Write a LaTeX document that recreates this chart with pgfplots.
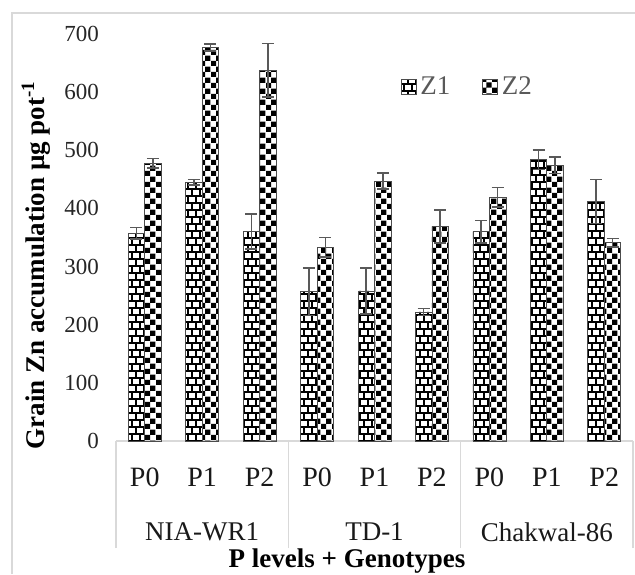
\documentclass[border=0pt]{standalone}
\usepackage{fontspec}
\setmainfont{Liberation Serif}
\usepackage{pgfplots}
\pgfplotsset{compat=1.18}
\usetikzlibrary{patterns}

\pgfdeclarepatternformonly{mycheck}{\pgfqpoint{0pt}{0pt}}{\pgfqpoint{5.6pt}{5.6pt}}{\pgfqpoint{5.6pt}{5.6pt}}{%
  \pgfpathrectangle{\pgfqpoint{0pt}{0pt}}{\pgfqpoint{2.8pt}{2.8pt}}%
  \pgfpathrectangle{\pgfqpoint{2.8pt}{2.8pt}}{\pgfqpoint{2.8pt}{2.8pt}}%
  \pgfusepath{fill}}

\pgfdeclarepatternformonly{mybricks}{\pgfqpoint{-0.5pt}{-0.5pt}}{\pgfqpoint{4.5pt}{7.5pt}}{\pgfqpoint{4pt}{7pt}}{%
  \pgfsetlinewidth{0.65pt}%
  \pgfpathmoveto{\pgfqpoint{0pt}{0pt}}\pgfpathlineto{\pgfqpoint{4pt}{0pt}}%
  \pgfpathmoveto{\pgfqpoint{0pt}{3.5pt}}\pgfpathlineto{\pgfqpoint{4pt}{3.5pt}}%
  \pgfpathmoveto{\pgfqpoint{0pt}{0pt}}\pgfpathlineto{\pgfqpoint{0pt}{3.5pt}}%
  \pgfpathmoveto{\pgfqpoint{2pt}{3.5pt}}\pgfpathlineto{\pgfqpoint{2pt}{7pt}}%
  \pgfusepath{stroke}}

\definecolor{errgray}{HTML}{595959}
\definecolor{framegray}{HTML}{D9D9D9}

\begin{document}
\begin{tikzpicture}
\begin{axis}[
  at={(58pt,66.5pt)}, anchor=south west,
  width=258.5pt, height=203.5pt, scale only axis,
  ymin=0, ymax=700, xmin=-0.5, xmax=8.5,
  ybar=0pt, bar width=8.25pt,
  ytick={0,100,...,700},
  xtick={0,...,8},
  xticklabels={P0,P1,P2,P0,P1,P2,P0,P1,P2},
  major tick length=0pt,
  extra x ticks={-0.5,2.5,5.5,8.5},
  extra x tick labels={},
  extra x tick style={major tick length=53.5pt, tick align=outside, tick style={draw=framegray, line width=0.8pt}},
  axis x line*=bottom, axis y line*=left,
  x axis line style={draw=framegray, line width=0.8pt},
  y axis line style={draw=none},
  ytick style={draw=none},
  /pgf/number format/assume math mode=true,
  yticklabel style={font=\fontsize{11.5}{13}\selectfont, text=black!85, xshift=-5pt},
  xticklabel style={font=\fontsize{14}{16}\selectfont, text=black!90, yshift=-10pt},
  clip=false,
  legend style={draw=none, fill=none, at={(0.55,0.87)}, anchor=west, inner sep=0pt,
    font=\fontsize{13.5}{16}\selectfont, text=black!65,
    /tikz/every even column/.append style={column sep=14pt}},
  legend columns=2,
  legend image code/.code={\draw[#1, line width=0.3pt] (0pt,-3.75pt) rectangle (7.5pt,3.75pt);},
]
\addplot[pattern=mybricks, draw=black!70, line width=0.35pt,
  error bars/.cd, y dir=both, y explicit,
  error bar style={line width=0.8pt, draw=errgray},
  error mark options={rotate=90, mark size=3pt, line width=0.8pt, draw=errgray}]
coordinates {(0,357) +- (0,10) (1,445) +- (0,5) (2,360) +- (0,30)
             (3,257) +- (0,41) (4,258) +- (0,40) (5,222) +- (0,6)
             (6,360) +- (0,19) (7,484) +- (0,17) (8,412) +- (0,38)};
\addlegendentry{Z1}
\addplot[pattern=mycheck, draw=black!70, line width=0.35pt,
  error bars/.cd, y dir=both, y explicit,
  error bar style={line width=0.8pt, draw=errgray},
  error mark options={rotate=90, mark size=3pt, line width=0.8pt, draw=errgray}]
coordinates {(0,478) +- (0,8) (1,677) +- (0,6) (2,638) +- (0,46)
             (3,333) +- (0,17) (4,447) +- (0,14) (5,369) +- (0,28)
             (6,419) +- (0,17) (7,474) +- (0,14) (8,341) +- (0,7)};
\addlegendentry{Z2}
\node[font=\fontsize{13.5}{16}\selectfont, text=black!90] at (axis cs:1,0) [yshift=-45.5pt] {NIA-WR1};
\node[font=\fontsize{13.5}{16}\selectfont, text=black!90] at (axis cs:4,0) [yshift=-45.5pt] {TD-1};
\node[font=\fontsize{13.5}{16}\selectfont, text=black!90] at (axis cs:7,0) [yshift=-45.5pt] {Chakwal-86};
\end{axis}
\node[font=\fontsize{13.5}{16}\selectfont\bfseries, rotate=90] at (18pt,154.5pt) {Grain Zn accumulation µg pot\textsuperscript{-1}};
\node[font=\fontsize{13.5}{16}\selectfont\bfseries] at (173.5pt,6.5pt) {P levels + Genotypes};
\draw[framegray, line width=0.8pt] (6pt,0pt) -- (6pt,280.5pt) -- (317.5pt,280.5pt);
\pgfresetboundingbox
\path[use as bounding box] (0,0) rectangle (317.5pt,287pt);
\end{tikzpicture}
\end{document}
